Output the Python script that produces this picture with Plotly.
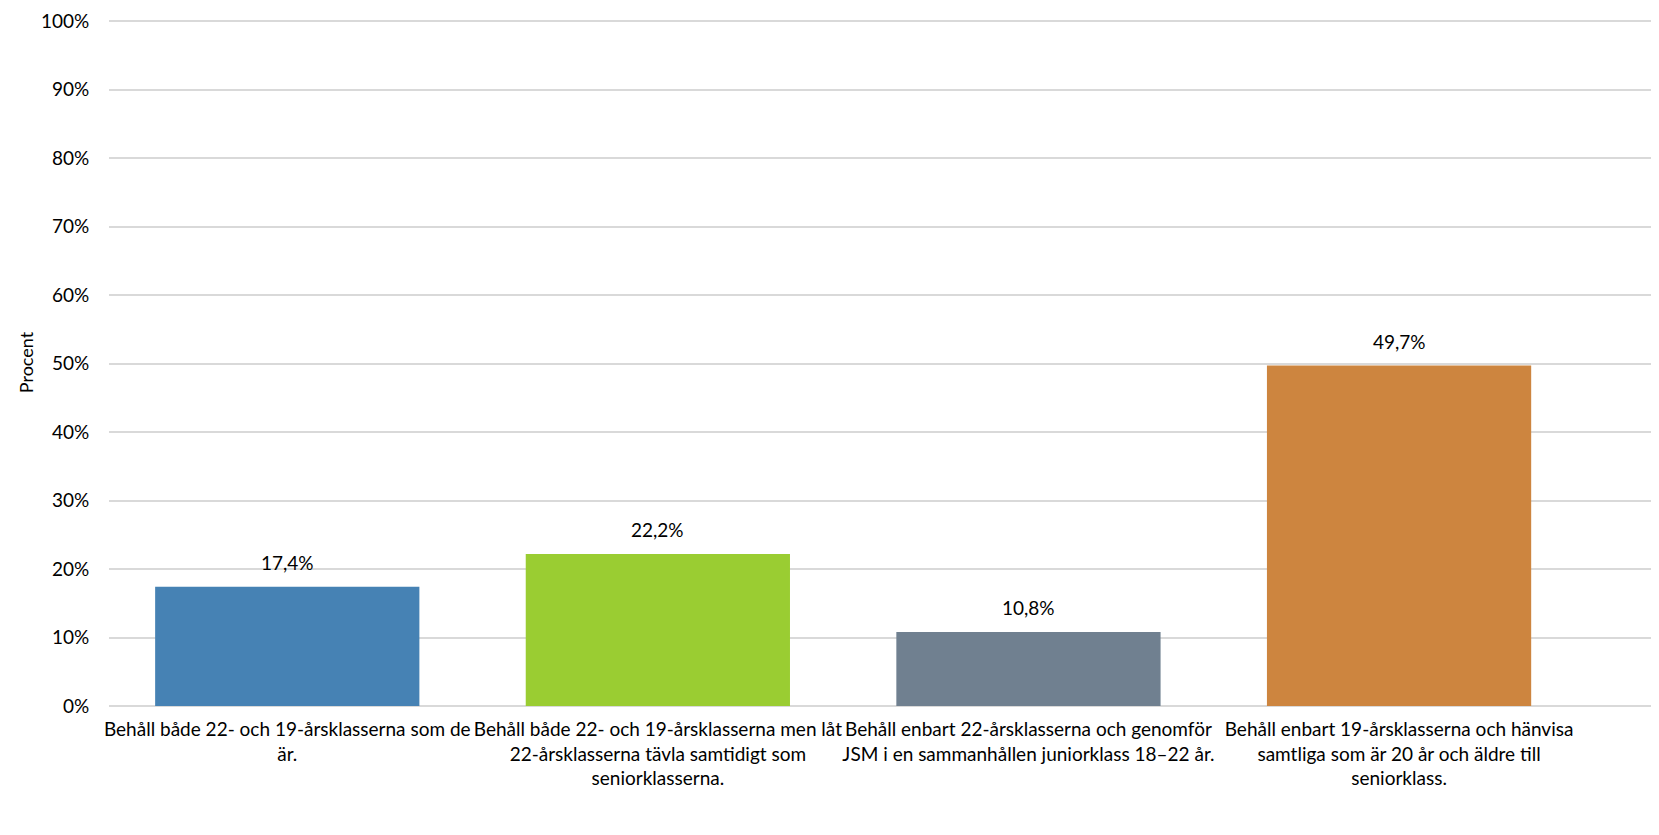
import plotly.graph_objects as go

categories = [
    "Behåll både 22- och 19-årsklasserna som de<br>är.",
    "Behåll både 22- och 19-årsklasserna men låt<br>22-årsklasserna tävla samtidigt som<br>seniorklasserna.",
    "Behåll enbart 22-årsklasserna och genomför<br>JSM i en sammanhållen juniorklass 18–22 år.",
    "Behåll enbart 19-årsklasserna och hänvisa<br>samtliga som är 20 år och äldre till<br>seniorklass.",
]
values = [17.4, 22.2, 10.8, 49.7]
colors = ["#4682B4", "#9ACD32", "#708090", "#CD853F"]
ytickvals = list(range(0, 101, 10))
yticktext = [f"{v}%" for v in ytickvals]
value_labels = [f"{v:.1f}%".replace(".", ",") for v in values]

FONT = "Lato, 'Open Sans', sans-serif"

fig = go.Figure(
    go.Bar(
        x=categories,
        y=values,
        marker=dict(color=colors, line=dict(width=0)),
        hoverinfo="skip",
    )
)

for c, v, t in zip(categories, values, value_labels):
    fig.add_annotation(
        x=c, y=v, text=t, showarrow=False,
        yanchor="bottom", yshift=11,
        font=dict(size=19, color="#000000", family=FONT),
    )

fig.update_layout(
    width=1659,
    height=835,
    margin=dict(l=101, r=0, t=11, b=137),
    plot_bgcolor="white",
    paper_bgcolor="white",
    bargap=0.287,
    showlegend=False,
    font=dict(family=FONT, size=19, color="#000000"),
)
fig.update_xaxes(
    range=[-0.481, 3.723],
    showgrid=False,
    showline=False,
    ticks="outside",
    ticklen=6,
    tickcolor="rgba(0,0,0,0)",
    tickfont=dict(size=19, family=FONT),
    tickangle=0,
)
fig.update_yaxes(
    range=[0, 100.3],
    tickmode="array",
    tickvals=ytickvals,
    ticktext=yticktext,
    showgrid=True,
    gridcolor="#d9d9d9",
    gridwidth=2,
    zeroline=True,
    zerolinecolor="#d9d9d9",
    zerolinewidth=2,
    showline=False,
    ticks="outside",
    ticklen=15,
    tickcolor="rgba(0,0,0,0)",
    tickfont=dict(size=19, family=FONT),
    title=dict(text="Procent", font=dict(size=18, family=FONT), standoff=2),
)

fig.write_html("out.html")
